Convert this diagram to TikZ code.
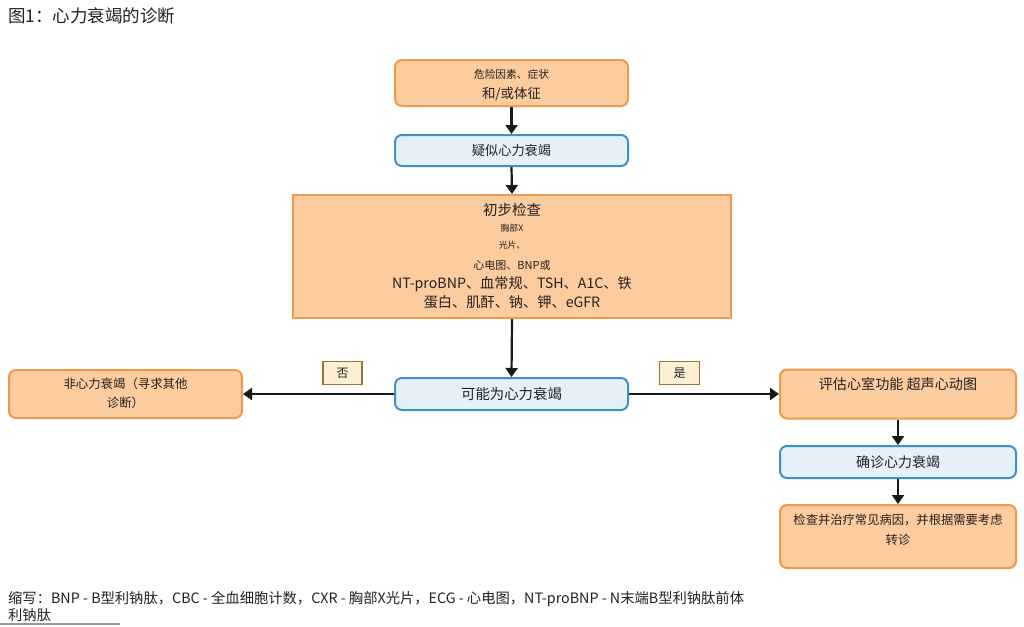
\documentclass[tikz,border=0pt]{standalone}
\usepackage{fontspec}
\setmainfont{Noto Sans CJK SC}
\usetikzlibrary{arrows.meta}
\definecolor{ofill}{HTML}{FCCB9E}
\definecolor{oline}{HTML}{EE9A4A}
\definecolor{bfill}{HTML}{E5F0F9}
\definecolor{bline}{HTML}{3C92C4}
\definecolor{lfill}{HTML}{FDF0D2}
\definecolor{lline}{HTML}{A0703A}
\definecolor{txt}{HTML}{222222}
\tikzset{
  obox/.style={draw=oline, fill=ofill, line width=2pt, rounded corners=7pt, inner sep=0pt, text=txt},
  bbox/.style={draw=bline, fill=bfill, line width=2pt, rounded corners=7pt, inner sep=0pt, text=txt},
  lbox/.style={draw=lline, fill=lfill, line width=1.4pt, inner sep=0pt, text=txt},
  conn/.style={draw=black!90, line width=2.2pt, -{Triangle[length=9pt,width=12pt]}},
  txtn/.style={inner sep=0pt, text=txt, align=center}
}
\begin{document}
\begin{tikzpicture}[x=1pt,y=-1pt]
\useasboundingbox (0,0) rectangle (1024,626);
\fill[white] (0,0) rectangle (1024,626);
% title
\node[txtn, anchor=west, font=\fontsize{17.5}{20}\selectfont] (title) at (8,16) {图1：心力衰竭的诊断};
% boxes
\node[obox, minimum width=233pt, minimum height=46pt] (b1) at (511.5,83) {};
\node[txtn, font=\fontsize{10.7}{12}\selectfont] (b1a) at (511.5,74) {危险因素、症状};
\node[txtn, font=\fontsize{13.4}{15}\selectfont] (b1b) at (511.5,94) {和/或体征};

\node[bbox, minimum width=233pt, minimum height=31pt, font=\fontsize{13.2}{15}\selectfont] (b2) at (511.5,150.5) {疑似心力衰竭};

\node[obox, rounded corners=0pt, minimum width=438pt, minimum height=123pt] (b3) at (512,256.5) {};
\node[txtn, font=\fontsize{14.5}{16}\selectfont] (b3a) at (512,210) {初步检查};
\node[txtn, font=\fontsize{8.8}{10}\selectfont] (b3b) at (512,228) {胸部X};
\node[txtn, font=\fontsize{8.8}{10}\selectfont] (b3c) at (512,245) {光片、};
\node[txtn, font=\fontsize{11}{13}\selectfont] (b3d) at (512,265) {心电图、BNP或};
\node[txtn, font=\fontsize{14.2}{16}\selectfont] (b3e) at (512,284) {NT-proBNP、血常规、TSH、A1C、铁};
\node[txtn, font=\fontsize{14.2}{16}\selectfont] (b3f) at (512,302) {蛋白、肌酐、钠、钾、eGFR};

\node[bbox, minimum width=233pt, minimum height=32pt, font=\fontsize{14.4}{16}\selectfont] (b4) at (511.5,394) {可能为心力衰竭};

\node[obox, minimum width=233pt, minimum height=48pt] (bl) at (125.5,394) {};
\node[txtn, font=\fontsize{12.4}{19}\selectfont] (blt) at (125.5,393) {非心力衰竭（寻求其他\\诊断）};

\node[obox, minimum width=236pt, minimum height=49pt] (br) at (898,394) {};
\node[txtn, font=\fontsize{14.1}{16}\selectfont] (brt) at (898,384) {评估心室功能 超声心动图};

\node[bbox, minimum width=236pt, minimum height=32pt, font=\fontsize{14}{16}\selectfont] (bc) at (898,462) {确诊心力衰竭};

\node[obox, minimum width=236pt, minimum height=63pt] (bt) at (898,536.5) {};
\node[txtn, font=\fontsize{12.3}{20}\selectfont] (btt) at (898,530) {检查并治疗常见病因，并根据需要考虑\\转诊};

% labels
\node[lbox, minimum width=39pt, minimum height=23pt, font=\fontsize{12}{14}\selectfont] (no) at (342.5,373) {否};
\node[lbox, minimum width=40pt, minimum height=23pt, font=\fontsize{12}{14}\selectfont] (yes) at (679.5,373) {是};

% connectors
\draw[conn] (b1.south) -- (b2.north);
\draw[conn] (b2.south) -- (b3.north);
\draw[conn] (b3.south) -- (b4.north);
\draw[conn] (b4.west) -- (bl.east);
\draw[conn] (b4.east) -- (br.west);
\draw[conn] (br.south) -- (bc.north);
\draw[conn] (bc.south) -- (bt.north);

% footnote
\node[txtn, anchor=west, font=\fontsize{14.3}{16}\selectfont] (fn1) at (8,599) {缩写：BNP - B型利钠肽，CBC - 全血细胞计数，CXR - 胸部X光片，ECG - 心电图，NT-proBNP - N末端B型利钠肽前体};
\node[txtn, anchor=west, font=\fontsize{14.3}{16}\selectfont] (fn2) at (8,615) {利钠肽};
\draw[black!40, line width=1.2pt] (0,624) -- (120,624);
\end{tikzpicture}
\end{document}
